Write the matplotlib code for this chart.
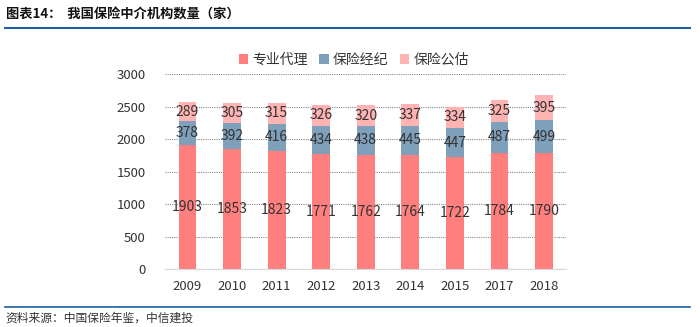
import matplotlib
matplotlib.use("Agg")
import matplotlib.pyplot as plt
import numpy as np

plt.rcParams["font.family"] = ["Noto Sans CJK SC", "DejaVu Sans"]
plt.rcParams["axes.unicode_minus"] = False

# 数据
years = ["2009", "2010", "2011", "2012", "2013", "2014", "2015", "2017", "2018"]
agency = [1903, 1853, 1823, 1771, 1762, 1764, 1722, 1784, 1790]
broker = [378, 392, 416, 434, 438, 445, 447, 487, 499]
assessor = [289, 305, 315, 326, 320, 337, 334, 325, 395]
series_names = ["专业代理", "保险经纪", "保险公估"]
colors = ["#FF7F7F", "#7FA0BB", "#FFB3B3"]

fig = plt.figure(figsize=(7, 3.27), dpi=100)

# 标题和分割线
fig.text(0.008, 0.955, "图表14：  我国保险中介机构数量（家）", fontsize=9.5,
         fontweight="bold", va="center", ha="left", color="#111111")
fig.add_artist(plt.Line2D([0.007, 0.985], [0.913, 0.913], color="#1F5F9F", lw=1.5))
fig.add_artist(plt.Line2D([0.007, 0.985], [0.062, 0.062], color="#1F5F9F", lw=1.2))
fig.text(0.008, 0.027, "资料来源：中国保险年鉴，中信建投", fontsize=8.5, style="italic",
         va="center", ha="left", color="#333333")

ax = fig.add_axes([0.236, 0.177, 0.573, 0.596])
x = np.arange(len(years))
w = 0.4
bottom = np.zeros(len(years))
for vals, name, c in zip([agency, broker, assessor], series_names, colors):
    ax.bar(x, vals, w, bottom=bottom, color=c, label=name, zorder=2)
    for xi, b, v in zip(x, bottom, vals):
        ax.text(xi, b + v / 2, str(v), ha="center", va="center", fontsize=10,
                color="#333333", zorder=3)
    bottom = bottom + np.array(vals)

ax.set_xlim(-0.5, len(years) - 0.5)
ax.set_ylim(0, 3000)
ax.set_yticks(range(0, 3001, 500))
ax.set_xticks(x)
ax.set_xticklabels(years)
ax.tick_params(axis="both", length=0, labelsize=9.5, colors="#333333")
ax.tick_params(axis="y", pad=14)
ax.tick_params(axis="x", pad=8)
ax.yaxis.grid(True, linestyle=(0, (1, 1)), color="#888888", lw=0.8, zorder=0)
for s in ["top", "right", "left"]:
    ax.spines[s].set_visible(False)
ax.spines["bottom"].set_color("#D9D9D9")

ax.legend(loc="center", bbox_to_anchor=(0.47, 1.075), ncol=3, frameon=False,
          fontsize=10, handlelength=0.7, handleheight=0.7, handletextpad=0.3,
          columnspacing=0.8, labelcolor="#333333", borderpad=0)

fig.savefig("out.png", dpi=100)
